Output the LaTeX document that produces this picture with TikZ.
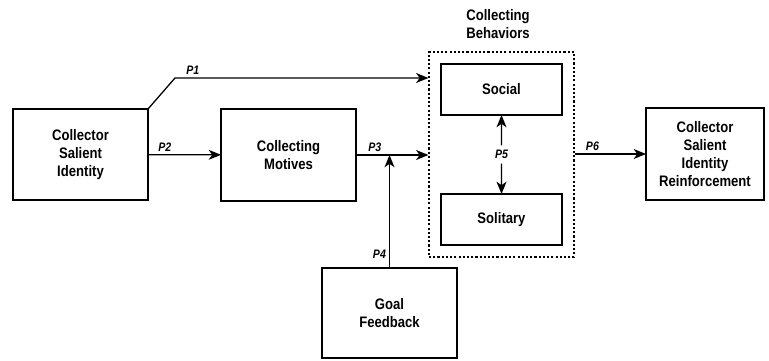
\documentclass[tikz,border=0pt]{standalone}
\usepackage{fontspec}
\setmainfont{Liberation Sans}[FakeStretch=0.86]
\usetikzlibrary{arrows.meta, positioning, fit, calc}
\tikzset{
    block/.style={
        rectangle,
        draw=black,
        line width=1.1pt,
        minimum width=4.05cm,
        minimum height=2.73cm,
        align=center,
        inner sep=2pt,
        outer sep=0pt,
        fill=white,
        font=\bfseries\fontsize{13}{15.3}\selectfont
    },
    subblock/.style={
        block,
        minimum width=3.63cm,
        minimum height=1.53cm
    },
    group/.style={
        rectangle,
        draw=black,
        line width=1pt,
        dash pattern=on 1.8pt off 1.8pt,
        inner sep=0.36cm
    },
    grouptitle/.style={
        align=center,
        font=\bfseries\fontsize{13}{15}\selectfont
    },
    plabel/.style={
        font=\bfseries\itshape\fontsize{10.5}{12}\selectfont,
        inner sep=2.5pt
    },
    wire/.style={
        draw=black,
        line width=1.1pt,
        -{Stealth[length=10.5pt, width=8.5pt, inset=3pt]}
    }
}
\begin{document}
\begin{tikzpicture}[x=0.03cm, y=-0.03cm]
\useasboundingbox (0,0) rectangle (769,360);

% Main blocks
\node[block] (csi) at (80.5,154.5) {Collector\\Salient\\Identity};
\node[block, minimum height=2.76cm] (motives) at (288.5,155) {Collecting\\Motives};
\node[block, minimum height=2.7cm] (goal) at (389.5,313) {Goal\\Feedback};
\node[block, minimum width=3.54cm, minimum height=2.76cm] (csir) at (705,154) {Collector\\Salient\\Identity\\Reinforcement};

% Collecting behaviors
\node[subblock] (social) at (501.5,89.5) {Social};
\node[subblock] (solitary) at (501.5,219.5) {Solitary};
\node[group, fit=(social) (solitary)] (behav) {};
\node[grouptitle] (behavtitle) at (498,24) {Collecting\\Behaviors};

% Paths
\coordinate (p1bend) at (175,78);
\draw[wire] (csi.north east) -- (p1bend) -- node[plabel, above, pos=0.07] {P1} (p1bend -| behav.west);
\draw[wire] (csi) -- node[plabel, above, pos=0.23] {P2} (motives);
\draw[wire] (motives.east) -- node[plabel, above, pos=0.26] {P3} (motives.east -| behav.west);
\draw[wire] (goal.north) -- node[plabel, left, pos=0.12] {P4} (goal.north |- motives.east);
\node[plabel, inner sep=4pt] (p5) at ($(social.south)!0.5!(solitary.north)$) {P5};
\draw[wire] (p5) -- (social);
\draw[wire] (p5) -- (solitary);
\draw[wire] (behav.east |- csir) -- node[plabel, above, pos=0.25] {P6} (csir);

\end{tikzpicture}
\end{document}
